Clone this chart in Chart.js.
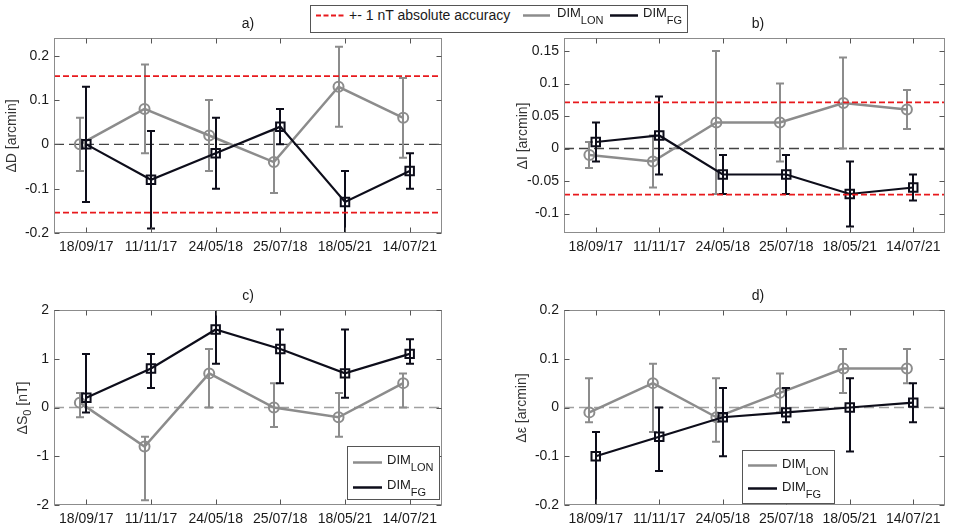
<!DOCTYPE html>
<html>
<head>
<meta charset="utf-8">
<script src="https://cdn.jsdelivr.net/npm/chart.js@4/dist/chart.umd.min.js"></script>
<style>
  body { margin: 0; background: #fff; font-family: "Liberation Sans", Arial, sans-serif; color: #1a1a1a; }
  #wrap { position: relative; width: 953px; height: 525px; overflow: hidden; }
  canvas { position: absolute; left: 0; top: 0; }
  .abs { position: absolute; white-space: nowrap; line-height: 1; }
  .ptitle { font-size: 14px; width: 60px; text-align: center; }
  .ytitle { font-size: 14px; transform: translate(-50%, -50%) rotate(-90deg); color: #333; }
  .ytitle sub { font-size: 11px; vertical-align: -4px; line-height: 0; }
  .lg { font-size: 13px; }
  .lg sub { font-size: 11px; vertical-align: -7px; line-height: 0; }
  #over { position: absolute; left: 0; top: 0; }
</style>
</head>
<body>
<div id="wrap">
  <canvas id="cA" width="953" height="525"></canvas>
  <canvas id="cB" width="953" height="525"></canvas>
  <canvas id="cC" width="953" height="525"></canvas>
  <canvas id="cD" width="953" height="525"></canvas>

  <svg id="over" width="953" height="525">
    <!-- top legend -->
    <rect x="310.5" y="5.5" width="377" height="27" fill="#fff" stroke="#555" stroke-width="1"/>
    <line x1="316" y1="15.5" x2="344" y2="15.5" stroke="#e8191c" stroke-width="2" stroke-dasharray="5,2.5"/>
    <line x1="523" y1="15.5" x2="550" y2="15.5" stroke="#8c8c8c" stroke-width="2.5"/>
    <line x1="610" y1="15.5" x2="638" y2="15.5" stroke="#0d0d1a" stroke-width="2.5"/>
    <!-- legend c -->
    <rect x="347.5" y="446.5" width="92" height="53" fill="#fff" stroke="#555" stroke-width="1"/>
    <line x1="353" y1="462.5" x2="382" y2="462.5" stroke="#8c8c8c" stroke-width="2.5"/>
    <line x1="353" y1="487.5" x2="382" y2="487.5" stroke="#0d0d1a" stroke-width="2.5"/>
    <!-- legend d -->
    <rect x="742.5" y="450.5" width="92" height="53" fill="#fff" stroke="#555" stroke-width="1"/>
    <line x1="748" y1="465.5" x2="777" y2="465.5" stroke="#8c8c8c" stroke-width="2.5"/>
    <line x1="748" y1="488.5" x2="777" y2="488.5" stroke="#0d0d1a" stroke-width="2.5"/>
  </svg>

  <span class="abs" style="left:349px;top:8px;font-size:14px">+- 1 nT absolute accuracy</span>
  <span class="abs lg" style="left:557px;top:5.6px">DIM<sub>LON</sub></span>
  <span class="abs lg" style="left:643px;top:5.6px">DIM<sub>FG</sub></span>

  <span class="abs lg" style="left:387px;top:452.6px">DIM<sub>LON</sub></span>
  <span class="abs lg" style="left:387px;top:477.6px">DIM<sub>FG</sub></span>
  <span class="abs lg" style="left:782px;top:456.6px">DIM<sub>LON</sub></span>
  <span class="abs lg" style="left:782px;top:480px">DIM<sub>FG</sub></span>

  <span class="abs ptitle" style="left:218px;top:16px">a)</span>
  <span class="abs ptitle" style="left:728px;top:16px">b)</span>
  <span class="abs ptitle" style="left:218px;top:288px">c)</span>
  <span class="abs ptitle" style="left:728px;top:288px">d)</span>

  <span class="abs ytitle" style="left:11px;top:136px">ΔD [arcmin]</span>
  <span class="abs ytitle" style="left:522px;top:136px">ΔI [arcmin]</span>
  <span class="abs ytitle" style="left:22px;top:408px">ΔS<sub>0</sub> [nT]</span>
  <span class="abs ytitle" style="left:521px;top:408px">Δε [arcmin]</span>
</div>

<script>
const dates = ["18/09/17", "11/11/17", "24/05/18", "25/07/18", "18/05/21", "14/07/21"];

// a) declination
const lonD = [0, 0.08, 0.02, -0.04, 0.13, 0.06];
const lonDLo = [-0.06, -0.02, -0.06, -0.11, 0.04, -0.03];
const lonDHi = [0.06, 0.18, 0.10, 0.03, 0.22, 0.15];
const fgD = [0, -0.08, -0.02, 0.04, -0.13, -0.06];
const fgDLo = [-0.13, -0.19, -0.10, 0, -0.2, -0.10];
const fgDHi = [0.13, 0.03, 0.06, 0.08, -0.06, -0.02];
const accD = 0.154;
const ticksD = [-0.2, -0.1, 0, 0.1, 0.2];

// b) inclination
const lonI = [-0.01, -0.02, 0.04, 0.04, 0.07, 0.06];
const lonILo = [-0.03, -0.06, -0.07, -0.02, 0, 0.03];
const lonIHi = [0.01, 0.02, 0.15, 0.10, 0.14, 0.09];
const fgI = [0.01, 0.02, -0.04, -0.04, -0.07, -0.06];
const fgILo = [-0.02, -0.04, -0.07, -0.07, -0.12, -0.08];
const fgIHi = [0.04, 0.08, -0.01, -0.01, -0.02, -0.04];
const accI = 0.071;
const ticksI = [-0.1, -0.05, 0, 0.05, 0.1, 0.15];

// c) S0 offset
const lonS = [0.1, -0.8, 0.7, 0, -0.2, 0.5];
const lonSLo = [-0.2, -1.9, 0, -0.4, -0.6, 0];
const lonSHi = [0.3, -0.6, 1.2, 0.5, 0.3, 0.7];
const fgS = [0.2, 0.8, 1.6, 1.2, 0.7, 1.1];
const fgSLo = [-0.1, 0.4, 0.9, 0.5, 0.2, 0.9];
const fgSHi = [1.1, 1.1, 2.0, 1.6, 1.6, 1.4];
const ticksS = [-2, -1, 0, 1, 2];

// d) epsilon
const lonE = [-0.01, 0.05, -0.02, 0.03, 0.08, 0.08];
const lonELo = [-0.03, -0.05, -0.07, -0.01, 0.03, 0.05];
const lonEHi = [0.06, 0.09, 0.06, 0.07, 0.12, 0.12];
const fgE = [-0.1, -0.06, -0.02, -0.01, 0, 0.01];
const fgELo = [-0.2, -0.13, -0.10, -0.03, -0.09, -0.03];
const fgEHi = [-0.05, 0, 0.04, 0.04, 0.06, 0.05];
const ticksE = [-0.2, -0.1, 0, 0.1, 0.2];

const GREY = "#8c8c8c";
const BLACK = "#0d0d1a";
const RED = "#e8191c";

Chart.defaults.font.family = '"Liberation Sans", Arial, sans-serif';
Chart.defaults.font.size = 14;
Chart.defaults.color = "#1a1a1a";

// vertical error bars with caps, drawn right after their own series
const errorBars = {
  id: "errorBars",
  afterDatasetDraw(chart, args) {
    const ds = chart.data.datasets[args.index];
    if (!ds.errLo) return;
    const xs = chart.scales.x, ys = chart.scales.y, a = chart.chartArea;
    const ctx = chart.ctx;
    ctx.save();
    ctx.beginPath();
    ctx.rect(a.left, a.top, a.right - a.left, a.bottom - a.top);
    ctx.clip();
    ctx.strokeStyle = ds.borderColor;
    ctx.lineWidth = 2;
    ds.data.forEach((p, i) => {
      const px = Math.round(xs.getPixelForValue(p.x)) + 0.0;
      const lo = ys.getPixelForValue(ds.errLo[i]);
      const hi = ys.getPixelForValue(ds.errHi[i]);
      ctx.beginPath();
      ctx.moveTo(px, lo); ctx.lineTo(px, hi);
      ctx.moveTo(px - 4, lo); ctx.lineTo(px + 4, lo);
      ctx.moveTo(px - 4, hi); ctx.lineTo(px + 4, hi);
      ctx.stroke();
    });
    ctx.restore();
  }
};

// matlab style box with inward ticks on all four sides
const frame = {
  id: "frame",
  afterDatasetsDraw(chart) {
    const a = chart.chartArea, ctx = chart.ctx;
    const xs = chart.scales.x, ys = chart.scales.y;
    ctx.save();
    ctx.strokeStyle = "#8c8c8c";
    ctx.lineWidth = 1;
    const l = Math.round(a.left) + 0.5, r = Math.round(a.right) - 0.5;
    const t = Math.round(a.top) + 0.5, b = Math.round(a.bottom) - 0.5;
    ctx.strokeRect(l, t, r - l, b - t);
    ctx.strokeStyle = "#555";
    ctx.beginPath();
    xs.ticks.forEach(tk => {
      const px = Math.round(xs.getPixelForValue(tk.value)) + 0.5;
      ctx.moveTo(px, b); ctx.lineTo(px, b - 5);
      ctx.moveTo(px, t); ctx.lineTo(px, t + 5);
    });
    ys.ticks.forEach(tk => {
      const py = Math.round(ys.getPixelForValue(tk.value)) + 0.5;
      ctx.moveTo(l, py); ctx.lineTo(l + 5, py);
      ctx.moveTo(r, py); ctx.lineTo(r - 5, py);
    });
    ctx.stroke();
    ctx.restore();
  }
};

const lineAt = v => [{ x: 0.5, y: v }, { x: 6.5, y: v }];

function makePanel(id, box, yMin, yMax, yTicks, lon, lonLo, lonHi, fg, fgLo, fgHi, acc, zeroColor) {
  const datasets = [
    { data: lineAt(0), borderColor: zeroColor, borderWidth: 1.3, borderDash: [10, 5], pointRadius: 0, order: 4 },
    {
      data: lon.map((v, i) => ({ x: i + 1 - 0.1, y: v })), errLo: lonLo, errHi: lonHi,
      borderColor: GREY, borderWidth: 2.5, pointStyle: "circle", pointRadius: 5,
      pointBorderWidth: 2, pointBackgroundColor: "rgba(0,0,0,0)", pointBorderColor: GREY, order: 3
    },
    {
      data: fg.map((v, i) => ({ x: i + 1, y: v })), errLo: fgLo, errHi: fgHi,
      borderColor: BLACK, borderWidth: 2.2, pointStyle: "rect", pointRadius: 6,
      pointBorderWidth: 2, pointBackgroundColor: "rgba(0,0,0,0)", pointBorderColor: BLACK, order: 2
    }
  ];
  if (acc) {
    datasets.push({ data: lineAt(acc), borderColor: RED, borderWidth: 1.6, borderDash: [6, 3], pointRadius: 0, order: 1 });
    datasets.push({ data: lineAt(-acc), borderColor: RED, borderWidth: 1.6, borderDash: [6, 3], pointRadius: 0, order: 1 });
  }
  new Chart(document.getElementById(id), {
    type: "line",
    data: { datasets },
    options: {
      responsive: false,
      animation: false,
      devicePixelRatio: 1,
      layout: { padding: { left: 0, top: box.t, right: 953 - box.r, bottom: 0 } },
      plugins: { legend: { display: false }, tooltip: { enabled: false }, title: { display: false } },
      scales: {
        x: {
          type: "linear", min: 0.5, max: 6.5,
          grid: { display: false, drawTicks: false }, border: { display: false },
          afterBuildTicks: s => { s.ticks = dates.map((d, i) => ({ value: i + 1 })); },
          afterFit: s => { s.height = 525 - box.b; },
          ticks: { callback: v => dates[Math.round(v) - 1], padding: 6, maxRotation: 0, autoSkip: false, font: { size: 14 } }
        },
        y: {
          type: "linear", min: yMin, max: yMax,
          grid: { display: false, drawTicks: false }, border: { display: false },
          afterBuildTicks: s => { s.ticks = yTicks.map(v => ({ value: v })); },
          afterFit: s => { s.width = box.l; },
          ticks: { callback: v => String(+v.toFixed(3)), padding: 5, font: { size: 14 } }
        }
      }
    },
    plugins: [errorBars, frame]
  });
}

makePanel("cA", { l: 54, t: 38, r: 442, b: 233 }, -0.2, 0.24, ticksD, lonD, lonDLo, lonDHi, fgD, fgDLo, fgDHi, accD, "#444");
makePanel("cB", { l: 564, t: 38, r: 952, b: 233 }, -0.13, 0.17, ticksI, lonI, lonILo, lonIHi, fgI, fgILo, fgIHi, accI, "#444");
makePanel("cC", { l: 54, t: 310, r: 442, b: 505 }, -2, 2, ticksS, lonS, lonSLo, lonSHi, fgS, fgSLo, fgSHi, 0, "#a0a0a0");
makePanel("cD", { l: 564, t: 310, r: 952, b: 505 }, -0.2, 0.2, ticksE, lonE, lonELo, lonEHi, fgE, fgELo, fgEHi, 0, "#a0a0a0");
</script>
</body>
</html>
